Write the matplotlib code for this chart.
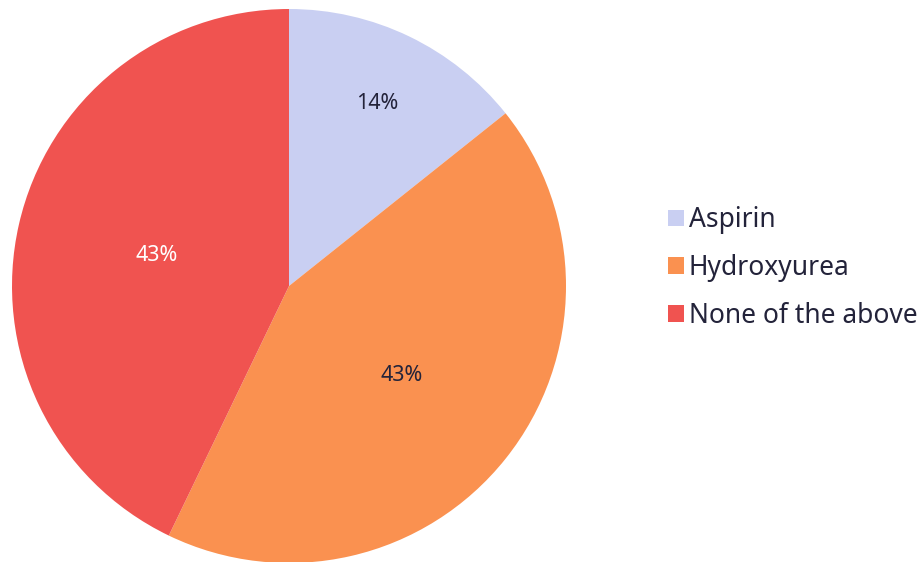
import numpy as np
import matplotlib.pyplot as plt

labels = ["Aspirin", "Hydroxyurea", "None of the above"]
values = [1, 3, 3]
colors = ["#C9CFF2", "#FA9150", "#F05350"]
pct_colors = ["#23233A", "#23233A", "#FFFFFF"]
pct_dist = [0.73, 0.52, 0.49]

plt.rcParams['font.family'] = ['Noto Sans', 'DejaVu Sans']

fig = plt.figure(figsize=(9.2, 5.62), dpi=100)
ax = fig.add_axes([12 / 920, -1 / 562, 554 / 920, 554 / 562])

wedges, _ = ax.pie(values, colors=colors, startangle=90, counterclock=False,
                   radius=1, wedgeprops=dict(linewidth=0))
total = sum(values)
for w, v, c, d in zip(wedges, values, pct_colors, pct_dist):
    mid = np.deg2rad((w.theta1 + w.theta2) / 2)
    ax.text(d * np.cos(mid), d * np.sin(mid), f"{v / total * 100:.0f}%",
            ha='center', va='center', fontsize=15.5, color=c)
ax.set_xlim(-1, 1)
ax.set_ylim(-1, 1)
ax.set_aspect('equal')
ax.axis('off')

fig.legend(wedges, labels, loc='center left', bbox_to_anchor=(644 / 920, 1 - 268 / 562),
           frameon=False, fontsize=19, handlelength=0.6, handleheight=0.6,
           handletextpad=0.2, labelspacing=0.75, labelcolor="#23233A")

fig.savefig("out.png", dpi=100)
